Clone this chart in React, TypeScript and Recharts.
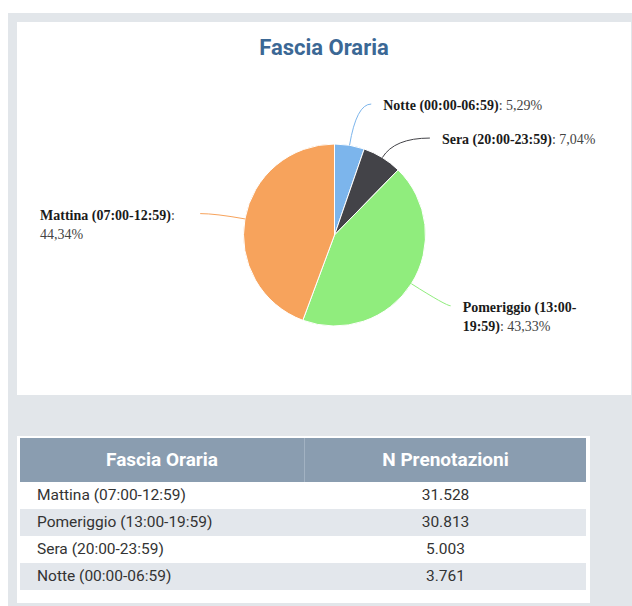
import React from "react";
import { PieChart, Pie, Cell } from "recharts";

const chartTitle = "Fascia Oraria";
const categories = [
  "Mattina (07:00-12:59)",
  "Pomeriggio (13:00-19:59)",
  "Sera (20:00-23:59)",
  "Notte (00:00-06:59)",
];
const bookings = [31528, 30813, 5003, 3761];
const sliceColors = ["#f7a35c", "#90ed7d", "#434348", "#7cb5ec"];
const tableHeaders = ["Fascia Oraria", "N Prenotazioni"];

const total = bookings.reduce((a, b) => a + b, 0);

// the pie runs clockwise from 12 o'clock, night slot first
const pieData = categories
  .map((name, i) => ({ name, value: bookings[i], color: sliceColors[i] }))
  .reverse();

const RAD = Math.PI / 180;
const LABEL_FONT = '"Liberation Serif", "Times New Roman", serif';
const FONT_SIZE = 14;
const LINE_H = 19;
const LEFT_LIMIT = 23;
const RIGHT_LIMIT = 588;
const MIN_GAP = 34;
const RIGHT_DROP = 6;

const itNumber = (n: number) => String(n).replace(/\B(?=(\d{3})+(?!\d))/g, ".");
const itPercent = (v: number) => ((v / total) * 100).toFixed(2).replace(".", ",") + "%";

let ctx: CanvasRenderingContext2D | null = null;
function measure(s: string, bold: boolean) {
  if (!s) return 0;
  if (!ctx) ctx = document.createElement("canvas").getContext("2d");
  ctx!.font = `${bold ? "bold " : ""}${FONT_SIZE}px ${LABEL_FONT}`;
  return ctx!.measureText(s).width;
}

function spanWidth(text: string, a: number, b: number, boldLen: number) {
  const t = text.slice(a, b).replace(/\s+$/, "");
  b = a + t.length;
  const cut = Math.min(Math.max(boldLen, a), b);
  return measure(text.slice(a, cut), true) + measure(text.slice(cut, b), false);
}

function wrap(text: string, boldLen: number, maxW: number) {
  const breaks: number[] = [];
  for (let i = 0; i < text.length; i++) if (text[i] === " " || text[i] === "-") breaks.push(i + 1);
  const lines: [number, number][] = [];
  let start = 0;
  while (start < text.length) {
    let end = text.length;
    if (spanWidth(text, start, end, boldLen) > maxW) {
      const fits = breaks.filter(
        (b) => b > start && b < text.length && spanWidth(text, start, b, boldLen) <= maxW
      );
      end = fits.length ? fits[fits.length - 1] : breaks.find((b) => b > start) ?? text.length;
    }
    lines.push([start, end]);
    start = end;
  }
  return lines;
}

// natural label heights, pushed apart when two labels on one side collide
function labelHeights(cy: number, r: number) {
  let cum = 0;
  const items = pieData.map((d, i) => {
    const mid = 90 - (360 * (cum + d.value / 2)) / total;
    cum += d.value;
    const right = Math.cos(mid * RAD) >= 0;
    return { i, right, y: cy - (r + 30) * Math.sin(mid * RAD) + (right ? RIGHT_DROP : 0) };
  });
  for (const side of [true, false]) {
    const s = items.filter((it) => it.right === side).sort((a, b) => b.y - a.y);
    for (let k = 1; k < s.length; k++) s[k].y = Math.min(s[k].y, s[k - 1].y - MIN_GAP);
  }
  return items.map((it) => it.y);
}

function renderLabel(props: any) {
  const { cx, cy, outerRadius: r, midAngle, index, name, value } = props;
  const color = pieData[index].color;
  const cos = Math.cos(midAngle * RAD);
  const sin = Math.sin(midAngle * RAD);
  const right = cos >= 0;
  const ex = cx + r * cos;
  const ey = cy - r * sin;
  const endY = labelHeights(cy, r)[index];
  const dy = endY - cy;
  const R2 = r + 45;
  const endX = cx + (right ? 1 : -1) * Math.sqrt(Math.max(0, R2 * R2 - dy * dy));
  let s = Math.abs(sin) > 0.05 ? (cy - endY) / sin : r + 30;
  s = Math.max(s, r + 5);
  const qx = cx + s * cos;
  const qy = cy - s * sin;

  const text = `${name}: ${itPercent(value)}`;
  const boldLen = name.length;
  let x0: number;
  let lines: [number, number][];
  if (right) {
    x0 = endX + 12;
    lines = wrap(text, boldLen, RIGHT_LIMIT - x0);
  } else {
    const blockRight = endX - 12;
    lines = wrap(text, boldLen, blockRight - LEFT_LIMIT);
    x0 = lines.length > 1 ? LEFT_LIMIT : blockRight - spanWidth(text, 0, text.length, boldLen);
  }
  const base = endY + 6;

  return (
    <g key={`lbl-${index}`}>
      <path
        d={`M${ex},${ey} Q${qx},${qy} ${endX},${endY}`}
        stroke={color}
        strokeWidth={1}
        fill="none"
      />
      {lines.map(([a, b], k) => {
        const cut = Math.min(Math.max(boldLen, a), b);
        return (
          <text
            key={k}
            x={x0}
            y={base + k * LINE_H}
            fontFamily={LABEL_FONT}
            fontSize={FONT_SIZE}
            textAnchor="start"
          >
            {cut > a && (
              <tspan fontWeight="bold" fill="#1a1a1a">
                {text.slice(a, cut)}
              </tspan>
            )}
            {b > cut && <tspan fill="#444">{text.slice(cut, b)}</tspan>}
          </text>
        );
      })}
    </g>
  );
}

export default function App() {
  return (
    <div
      style={{
        position: "fixed",
        left: 0,
        top: 0,
        width: 632,
        height: 606,
        background: "#ffffff",
        overflow: "hidden",
        fontFamily: "Roboto, sans-serif",
      }}
    >
      <div style={{ position: "absolute", left: 8, top: 13, width: 624, height: 593, background: "#e2e6ea" }} />

      {/* chart card */}
      <div style={{ position: "absolute", left: 17, top: 22, width: 614, height: 373, background: "#ffffff" }}>
        <div
          style={{
            position: "absolute",
            left: 0,
            top: 14,
            width: 614,
            height: 24,
            lineHeight: "24px",
            textAlign: "center",
            fontSize: 22,
            fontWeight: "bold",
            color: "#3b6895",
          }}
        >
          {chartTitle}
        </div>
        <PieChart
          width={614}
          height={373}
          margin={{ top: 0, right: 0, bottom: 0, left: 0 }}
          style={{ position: "absolute", left: 0, top: 0 }}
        >
          <Pie
            data={pieData}
            dataKey="value"
            nameKey="name"
            cx={317.5}
            cy={213}
            outerRadius={91}
            startAngle={90}
            endAngle={-270}
            stroke="#ffffff"
            strokeWidth={1}
            label={renderLabel}
            labelLine={false}
            isAnimationActive={false}
          >
            {pieData.map((d, i) => (
              <Cell key={i} fill={d.color} />
            ))}
          </Pie>
        </PieChart>
      </div>

      {/* data table */}
      <div style={{ position: "absolute", left: 17, top: 436, width: 573, height: 167, background: "#ffffff" }}>
        <div
          style={{
            position: "absolute",
            left: 3,
            top: 2,
            width: 566,
            height: 44,
            background: "#8a9db0",
            display: "flex",
            color: "#ffffff",
            fontSize: 19,
            fontWeight: "bold",
            lineHeight: "44px",
          }}
        >
          <div style={{ width: 284, textAlign: "center", borderRight: "1px solid #a2b2c2" }}>{tableHeaders[0]}</div>
          <div style={{ width: 281, textAlign: "center" }}>{tableHeaders[1]}</div>
        </div>
        {categories.map((c, i) => (
          <div
            key={c}
            style={{
              position: "absolute",
              left: 3,
              top: 46 + i * 27,
              width: 566,
              height: 27,
              background: i % 2 ? "#e3e7ec" : "#ffffff",
              display: "flex",
              fontSize: 15.5,
              color: "#333333",
              lineHeight: "27px",
            }}
          >
            <div style={{ width: 285, paddingLeft: 17, boxSizing: "border-box" }}>{c}</div>
            <div style={{ width: 281, textAlign: "center" }}>{itNumber(bookings[i])}</div>
          </div>
        ))}
      </div>
    </div>
  );
}
